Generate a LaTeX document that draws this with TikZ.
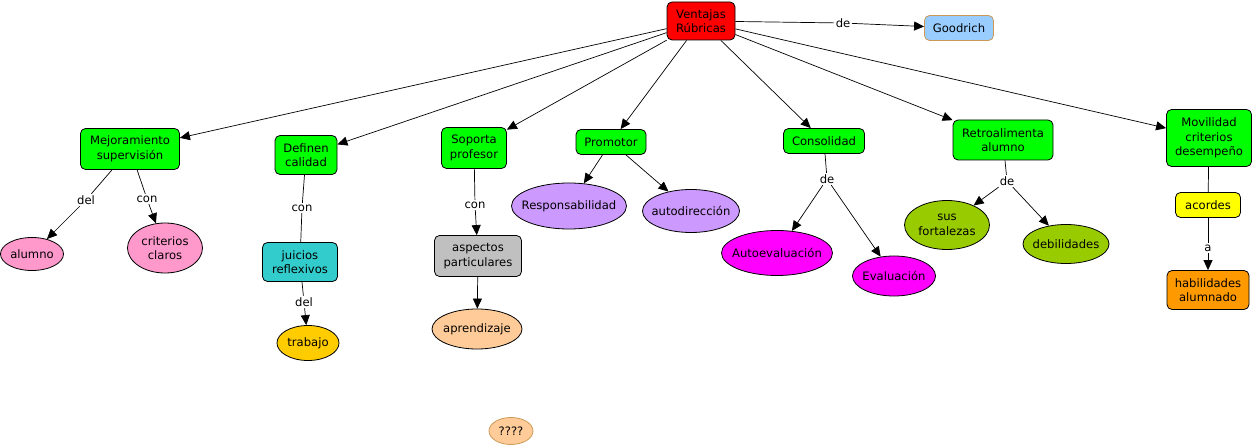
\documentclass[tikz,border=0pt]{standalone}
\usepackage{fontspec}
\setmainfont{DejaVu Sans}
\usetikzlibrary{shapes.geometric,arrows.meta}
\definecolor{cgreen}{HTML}{00FF00}
\definecolor{cred}{HTML}{FF0000}
\definecolor{cblue}{HTML}{99CCFF}
\definecolor{ctan}{HTML}{CC9955}
\definecolor{cpink}{HTML}{FF99CC}
\definecolor{cteal}{HTML}{33CCCC}
\definecolor{cgold}{HTML}{FFCC00}
\definecolor{cgray}{HTML}{C0C0C0}
\definecolor{cpeach}{HTML}{FFCC99}
\definecolor{cpurple}{HTML}{CC99FF}
\definecolor{cmag}{HTML}{FF00FF}
\definecolor{colive}{HTML}{99CC00}
\definecolor{cyel}{HTML}{FFFF00}
\definecolor{corange}{HTML}{FF9900}
\newcommand{\fsz}{\fontsize{11.6}{14.5}\selectfont}
\tikzset{
  box/.style={draw, rounded corners=5pt, align=center, inner sep=0pt, font=\fsz, line width=0.8pt},
  ltx/.style={align=center, inner sep=0pt, font=\fsz},
  ell/.style={draw, ellipse, inner sep=0pt, line width=0.8pt, label={[ltx]center:{#1}}},
  lbl/.style={fill=white, inner sep=1.5pt, font=\fsz},
  arr/.style={-{Triangle[length=10pt,width=9pt]}, line width=0.7pt},
  ln/.style={line width=0.7pt}
}
\begin{document}
\begin{tikzpicture}[x=1pt,y=-1pt]
\useasboundingbox (0,0) rectangle (1255,446);
% root
\node[box, fill=cred, minimum width=68, minimum height=38] (root) at (701,21) {Ventajas\\Rúbricas};
\node[box, fill=cblue, draw=ctan, minimum width=69, minimum height=25] (good) at (959,28) {Goodrich};
\node[lbl] (lde) at (843,23) {de};
% level 1
\node[box, fill=cgreen, minimum width=99, minimum height=41] (mej) at (130,149) {Mejoramiento\\supervisión};
\node[box, fill=cgreen, minimum width=62, minimum height=39] (def) at (306,155) {Definen\\calidad};
\node[box, fill=cgreen, minimum width=65, minimum height=41] (sop) at (474,148) {Soporta\\profesor};
\node[box, fill=cgreen, minimum width=70, minimum height=25] (pro) at (611,142) {Promotor};
\node[box, fill=cgreen, minimum width=81, minimum height=25] (con) at (824,141) {Consolidad};
\node[box, fill=cgreen, minimum width=100, minimum height=40] (ret) at (1003,140) {Retroalimenta\\alumno};
\node[box, fill=cgreen, minimum width=85, minimum height=57] (mov) at (1209,138) {Movilidad\\criterios\\desempeño};
% Mejoramiento branch
\node[lbl] (ldel1) at (86,200) {del};
\node[lbl] (lcon1) at (147,199) {con};
\node[ell={alumno}, fill=cpink, minimum width=63, minimum height=33] (alu) at (32,254) {};
\node[ell={criterios\\claros}, fill=cpink, minimum width=75, minimum height=50] (cri) at (165,248) {};
% Definen branch
\node[lbl] (lcon2) at (302,208) {con};
\node[box, fill=cteal, minimum width=75, minimum height=39] (jui) at (300,262) {juicios\\reflexivos};
\node[lbl] (ldel2) at (304,302) {del};
\node[ell={trabajo}, fill=cgold, minimum width=62, minimum height=35] (tra) at (308,343) {};
% Soporta branch
\node[lbl] (lcon3) at (475,205) {con};
\node[box, fill=cgray, minimum width=87, minimum height=41] (asp) at (478,256) {aspectos\\particulares};
\node[ell={aprendizaje}, fill=cpeach, minimum width=90, minimum height=40] (apr) at (477,329) {};
\node[ell={????}, fill=cpeach, draw=ctan, minimum width=44, minimum height=27] (qq) at (511,431) {};
% Promotor branch
\node[ell={Responsabilidad}, fill=cpurple, minimum width=115, minimum height=46] (res) at (569,206) {};
\node[ell={autodirección}, fill=cpurple, minimum width=97, minimum height=43] (aut) at (691,211) {};
% Consolidad branch
\node[lbl] (lde2) at (827,179) {de};
\node[ell={Autoevaluación}, fill=cmag, minimum width=111, minimum height=45] (ae) at (777,253) {};
\node[ell={Evaluación}, fill=cmag, minimum width=83, minimum height=40] (ev) at (894,276) {};
% Retroalimenta branch
\node[lbl] (lde3) at (1007,181) {de};
\node[ell={sus\\fortalezas}, fill=colive, minimum width=85, minimum height=49] (for) at (947,225) {};
\node[ell={debilidades}, fill=colive, minimum width=86, minimum height=39] (deb) at (1066,244) {};
% Movilidad branch
\node[box, fill=cyel, minimum width=65, minimum height=25] (aco) at (1208,205) {acordes};
\node[lbl] (la) at (1208,248) {a};
\node[box, fill=corange, minimum width=82, minimum height=39] (hab) at (1208,290) {habilidades\\alumnado};

% connectors
\draw[ln] (root) -- (lde);
\draw[arr] (lde) -- (good);
\foreach \t in {mej,def,sop,pro,con,ret,mov} \draw[arr] (root) -- (\t);
\draw[ln] (mej) -- (ldel1); \draw[arr] (ldel1) -- (alu);
\draw[ln] (mej) -- (lcon1); \draw[arr] (lcon1) -- (cri);
\draw[ln] (def) -- (lcon2); \draw[ln] (lcon2) -- (jui);
\draw[ln] (jui) -- (ldel2); \draw[arr] (ldel2) -- (tra);
\draw[ln] (sop) -- (lcon3); \draw[arr] (lcon3) -- (asp);
\draw[arr] (asp) -- (apr);
\draw[arr] (pro) -- (res);
\draw[arr] (pro) -- (aut);
\draw[ln] (con) -- (lde2); \draw[arr] (lde2) -- (ae); \draw[arr] (lde2) -- (ev);
\draw[ln] (ret) -- (lde3); \draw[arr] (lde3) -- (for); \draw[arr] (lde3) -- (deb);
\draw[ln] (mov) -- (aco);
\draw[ln] (aco) -- (la); \draw[arr] (la) -- (hab);
\end{tikzpicture}
\end{document}
